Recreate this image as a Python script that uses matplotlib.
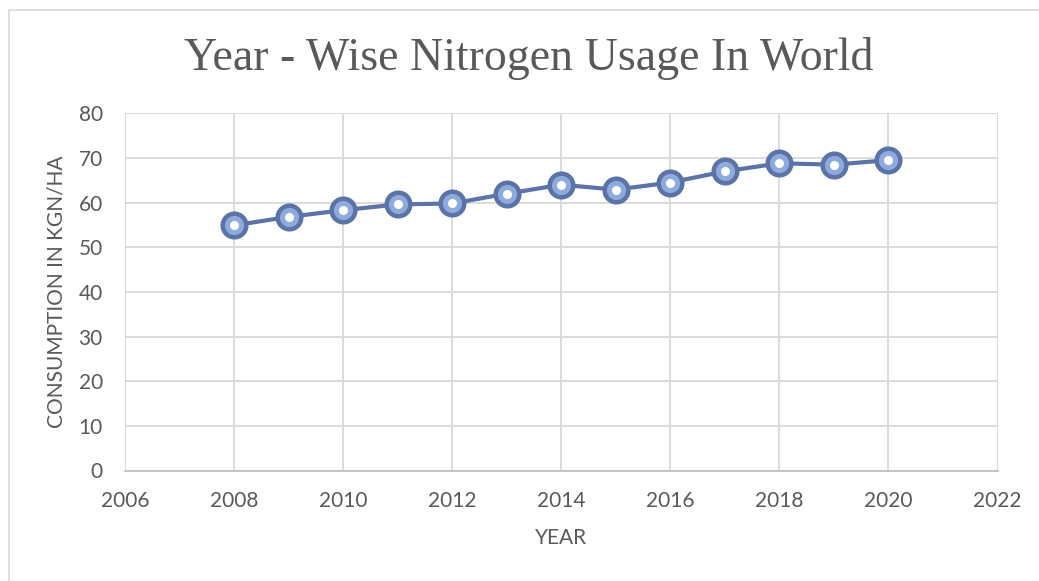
import matplotlib.pyplot as plt
from matplotlib.patches import Rectangle

years = [2008, 2009, 2010, 2011, 2012, 2013, 2014, 2015, 2016, 2017, 2018, 2019, 2020]
consumption = [54.9, 56.8, 58.3, 59.6, 59.8, 62.0, 64.0, 62.9, 64.5, 67.0, 68.8, 68.5, 69.5]
x_ticks = [2006, 2008, 2010, 2012, 2014, 2016, 2018, 2020, 2022]
y_ticks = [0, 10, 20, 30, 40, 50, 60, 70, 80]

title = "Year - Wise Nitrogen Usage In World"
xlabel = "YEAR"
ylabel = "CONSUMPTION IN KGN/HA"

W, H = 1039, 581
fig = plt.figure(figsize=(W / 100, H / 100), dpi=100)
fig.patch.set_facecolor("white")

# outer chart frame
fig.patches.append(Rectangle((9 / W, -0.05), 1.1, 1 - 10 / H + 0.05,
                             transform=fig.transFigure, fill=False,
                             edgecolor="#d9d9d9", linewidth=1.2))

ax = fig.add_axes([125 / W, 1 - 470.5 / H, (997.5 - 125) / W, (470.5 - 113.3) / H])
ax.set_xlim(2006, 2022)
ax.set_ylim(0, 80)
ax.set_xticks(x_ticks)
ax.set_yticks(y_ticks)
ax.grid(True, color="#d9d9d9", linewidth=1.3)
ax.set_axisbelow(True)
for s in ["top", "right", "left"]:
    ax.spines[s].set_visible(False)
ax.spines["bottom"].set_color("#bfbfbf")
ax.spines["bottom"].set_linewidth(1.3)
tick_font = ["Lato", "DejaVu Sans"]
ax.tick_params(length=0, labelsize=15, labelcolor="#595959")
ax.tick_params(axis="x", pad=15)
ax.tick_params(axis="y", pad=16)
for lab in ax.get_xticklabels() + ax.get_yticklabels():
    lab.set_fontfamily(tick_font)

ax.plot(years, consumption, color="#5b73a7", linewidth=3, zorder=3)
ax.plot(years, consumption, linestyle="none", marker="o", markersize=17,
        markerfacecolor="#8faadc", markeredgecolor="#5b73a7", markeredgewidth=3.2, zorder=4)
ax.plot(years, consumption, linestyle="none", marker="o", markersize=6.5,
        markerfacecolor="white", markeredgecolor="white", markeredgewidth=0, zorder=5)

ax.set_xlabel(xlabel, fontsize=15, color="#595959", labelpad=12, fontfamily=tick_font)
ax.set_ylabel(ylabel, fontsize=15, color="#595959", labelpad=9, fontfamily=tick_font)

fig.text(529 / W, 1 - 58 / H, title, ha="center", va="center", fontsize=33,
         color="#595959", fontfamily=["Liberation Serif", "DejaVu Serif"])

fig.savefig("out.png", dpi=100)
